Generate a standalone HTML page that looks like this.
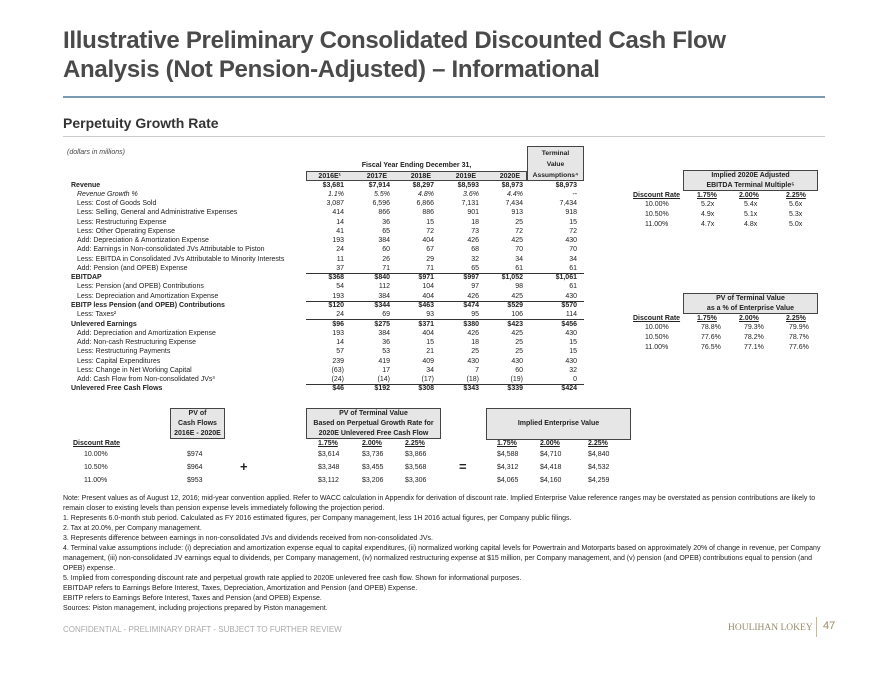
<!DOCTYPE html>
<html><head><meta charset="utf-8">
<style>
*{margin:0;padding:0;box-sizing:border-box}
body{width:880px;height:680px;background:#fff;font-family:"Liberation Sans",Arial,sans-serif;color:#222;position:relative;overflow:hidden}
.a{position:absolute;white-space:nowrap}
.t{font-size:7px;line-height:9px}
.b{font-weight:bold}
.i{font-style:italic}
.r{text-align:right}
.c{text-align:center}
.box{position:absolute;border:1px solid #444;background:#e6e6e6}
.u{text-decoration:underline}
.note{font-size:7px;color:#222}
</style></head><body>
<div class="a b" style="left:63px;top:26px;font-size:24px;line-height:29px;color:#4a4a4a;letter-spacing:-0.3px">Illustrative Preliminary Consolidated Discounted Cash Flow<br>Analysis (Not Pension-Adjusted) – Informational</div>
<div class="a" style="left:63px;top:96px;width:762px;height:2px;background:#7a9bb0"></div>
<div class="a b" style="left:63px;top:115px;font-size:14px;color:#333">Perpetuity Growth Rate</div>
<div class="a" style="left:63px;top:136px;width:762px;height:1px;background:#ccc"></div>

<div class="a t i" style="left:67px;top:148px;color:#444">(dollars in millions)</div>
<div class="box" style="left:527px;top:146px;width:57px;height:35px"></div>
<div class="a t b c" style="left:527px;top:148px;width:57px;line-height:11px;font-size:6.7px">Terminal<br>Value<br>Assumptions⁴</div>
<div class="a t b c" style="left:306px;top:161px;width:221px">Fiscal Year Ending December 31,</div>
<div class="box" style="left:306px;top:171px;width:221px;height:10px;background:#e6e6e6"></div>
<div id="tbl"></div>
<div id="bottom"></div>
<div id="right"></div>

<div class="a note" style="left:63px;top:494px;white-space:normal;width:768px;line-height:10px">Note: Present values as of August 12, 2016; mid-year convention applied. Refer to WACC calculation in Appendix for derivation of discount rate. Implied Enterprise Value reference ranges may be overstated as pension contributions are likely to remain closer to existing levels than pension expense levels immediately following the projection period.<br>1. Represents 6.0-month stub period. Calculated as FY 2016 estimated figures, per Company management, less 1H 2016 actual figures, per Company public filings.<br>2. Tax at 20.0%, per Company management.<br>3. Represents difference between earnings in non-consolidated JVs and dividends received from non-consolidated JVs.<br>4. Terminal value assumptions include: (i) depreciation and amortization expense equal to capital expenditures, (ii) normalized working capital levels for Powertrain and Motorparts based on approximately 20% of change in revenue, per Company management, (iii) non-consolidated JV earnings equal to dividends, per Company management, (iv) normalized restructuring expense at $15 million, per Company management, and (v) pension (and OPEB) contributions equal to pension (and OPEB) expense.<br>5. Implied from corresponding discount rate and perpetual growth rate applied to 2020E unlevered free cash flow. Shown for informational purposes.<br>EBITDAP refers to Earnings Before Interest, Taxes, Depreciation, Amortization and Pension (and OPEB) Expense.<br>EBITP refers to Earnings Before Interest, Taxes and Pension (and OPEB) Expense.<br>Sources: Piston management, including projections prepared by Piston management.</div>

<div class="a" style="left:63px;top:625px;font-size:8px;color:#aaa">CONFIDENTIAL - PRELIMINARY DRAFT - SUBJECT TO FURTHER REVIEW</div>
<div class="a" style="left:728px;top:623px;font-size:9.5px;color:#9a8a6a;font-family:'Liberation Serif',serif">HOULIHAN LOKEY</div>
<div class="a" style="left:816px;top:617px;width:1px;height:20px;background:#c9b98a"></div>
<div class="a" style="left:823px;top:620px;font-size:11px;color:#9a8a6a">47</div>

<script>
const years=["2016E¹","2017E","2018E","2019E","2020E","Assumptions⁴"];
const rowLabels=["Revenue","Revenue Growth %","Less: Cost of Goods Sold","Less: Selling, General and Administrative Expenses","Less: Restructuring Expense","Less: Other Operating Expense","Add: Depreciation & Amortization Expense","Add: Earnings in Non-consolidated JVs Attributable to Piston","Less: EBITDA in Consolidated JVs Attributable to Minority Interests","Add: Pension (and OPEB) Expense","EBITDAP","Less: Pension (and OPEB) Contributions","Less: Depreciation and Amortization Expense","EBITP less Pension (and OPEB) Contributions","Less: Taxes²","Unlevered Earnings","Add: Depreciation and Amortization Expense","Add: Non-cash Restructuring Expense","Less: Restructuring Payments","Less: Capital Expenditures","Less: Change in Net Working Capital","Add: Cash Flow from Non-consolidated JVs³","Unlevered Free Cash Flows"];
const rowValues=[
["$3,681","$7,914","$8,297","$8,593","$8,973","$8,973"],
["1.1%","5.5%","4.8%","3.6%","4.4%","--"],
["3,087","6,596","6,866","7,131","7,434","7,434"],
["414","866","886","901","913","918"],
["14","36","15","18","25","15"],
["41","65","72","73","72","72"],
["193","384","404","426","425","430"],
["24","60","67","68","70","70"],
["11","26","29","32","34","34"],
["37","71","71","65","61","61"],
["$368","$840","$971","$997","$1,052","$1,061"],
["54","112","104","97","98","61"],
["193","384","404","426","425","430"],
["$120","$344","$463","$474","$529","$570"],
["24","69","93","95","106","114"],
["$96","$275","$371","$380","$423","$456"],
["193","384","404","426","425","430"],
["14","36","15","18","25","15"],
["57","53","21","25","25","15"],
["239","419","409","430","430","430"],
["(63)","17","34","7","60","32"],
["(24)","(14)","(17)","(18)","(19)","0"],
["$46","$192","$308","$343","$339","$424"]];
const boldRows=[0,10,13,15,22];
const italicRows=[1];
const ruleRows=[10,13,15,22];
const discountRates=["10.00%","10.50%","11.00%"];
const growthRates=["1.75%","2.00%","2.25%"];
const pvCashFlows=["$974","$964","$953"];
const pvTerminal=[["$3,614","$3,736","$3,866"],["$3,348","$3,455","$3,568"],["$3,112","$3,206","$3,306"]];
const impliedEV=[["$4,588","$4,710","$4,840"],["$4,312","$4,418","$4,532"],["$4,065","$4,160","$4,259"]];
const multiples=[["5.2x","5.4x","5.6x"],["4.9x","5.1x","5.3x"],["4.7x","4.8x","5.0x"]];
const tvPct=[["78.8%","79.3%","79.9%"],["77.6%","78.2%","78.7%"],["76.5%","77.1%","77.6%"]];

const colRight=[344,390,434,479,523,577];
const rowTop=180.5,rowH=9.27;
function el(parent,cls,style,text){const d=document.createElement('div');d.className='a t '+cls;d.style.cssText=style;d.textContent=text;parent.appendChild(d);return d;}
const tbl=document.getElementById('tbl');
years.forEach((y,j)=>{const d=el(tbl,'b r',`left:${colRight[j]-50}px;width:47px;top:171.5px;${j==5?'display:none':''}`,y);

});
rowLabels.forEach((lab,i)=>{
 const top=rowTop+i*rowH;
 const isB=boldRows.includes(i),isI=italicRows.includes(i);
 const d=el(tbl,(isB?'b ':'')+(isI?'i':''),`left:${isB?71:77}px;top:${top}px`,lab);
 
 
 rowValues[i].forEach((v,j)=>{
  const c=el(tbl,'r '+(isB?'b ':'')+(isI?'i':''),`left:${colRight[j]-50}px;width:50px;top:${top}px`,v);
  
  
 });
 if(ruleRows.includes(i)){
  const r=document.createElement('div');r.className='a';
  r.style.cssText=`left:306px;width:278px;top:${top-0.5}px;height:1px;border-top:1px solid #333`;
  
  
  tbl.appendChild(r);
 }
});

const bot=document.getElementById('bottom');
function box(p,l,t,w,h,name,txt){const b=document.createElement('div');b.className='box';b.style.cssText=`left:${l}px;top:${t}px;width:${w}px;height:${h}px`;


p.appendChild(b);
const x=el(p,'b c',`left:${l}px;width:${w}px;top:${t+(h-txt.split('\n').length*10)/2}px;line-height:10px;white-space:pre`,txt);

}
const BT=408;
box(bot,170,BT,55,31,'pv-cash-flows-box','PV of\nCash Flows\n2016E - 2020E');
box(bot,306,BT,135,31,'pv-terminal-box','PV of Terminal Value\nBased on Perpetual Growth Rate for\n2020E Unlevered Free Cash Flow');
box(bot,486,BT,145,32,'implied-ev-box','Implied Enterprise Value');
let d=el(bot,'b u',`left:73px;top:${BT+31}px`,'Discount Rate');


const tvX=[318,362,405],evX=[497,540,588];
growthRates.forEach((g,j)=>{
 let a=el(bot,'b u',`left:${tvX[j]}px;top:${BT+31}px`,g);
 let b=el(bot,'b u',`left:${evX[j]}px;top:${BT+31}px`,g);
});
discountRates.forEach((r,i)=>{
 const top=BT+42+i*12.8;
 let a=el(bot,'',`left:84px;top:${top}px`,r);
 let b=el(bot,'',`left:187px;top:${top}px`,pvCashFlows[i]);
 pvTerminal[i].forEach((v,j)=>{let c=el(bot,'',`left:${tvX[j]}px;top:${top}px`,v);});
 impliedEV[i].forEach((v,j)=>{let c=el(bot,'',`left:${evX[j]}px;top:${top}px`,v);});
});
d=el(bot,'b',`left:240px;top:${BT+52}px;font-size:13px;line-height:14px`,'+');
d=el(bot,'b',`left:459px;top:${BT+52}px;font-size:13px;line-height:14px`,'=');

const rt=document.getElementById('right');
const rX=[697,739,786],vX=[701,744,789];
function sens(top,name,title,vals){
 box(rt,683,top,135,21,name,title);
 let l=el(rt,'b u',`left:633px;top:${top+21}px`,'Discount Rate');
 growthRates.forEach((g,j)=>{let a=el(rt,'b u',`left:${rX[j]}px;top:${top+21}px`,g);});
 discountRates.forEach((r,i)=>{
  const t=top+29.5+i*10;
  let a=el(rt,'',`left:645px;top:${t}px`,r);
  vals[i].forEach((v,j)=>{let c=el(rt,'',`left:${vX[j]}px;top:${t}px`,v);});
 });
}
sens(170,'terminal-multiple-box','Implied 2020E Adjusted\nEBITDA Terminal Multiple⁵',multiples);
sens(293,'tv-pct-box','PV of Terminal Value\nas a % of Enterprise Value',tvPct);
</script>
</body></html>
